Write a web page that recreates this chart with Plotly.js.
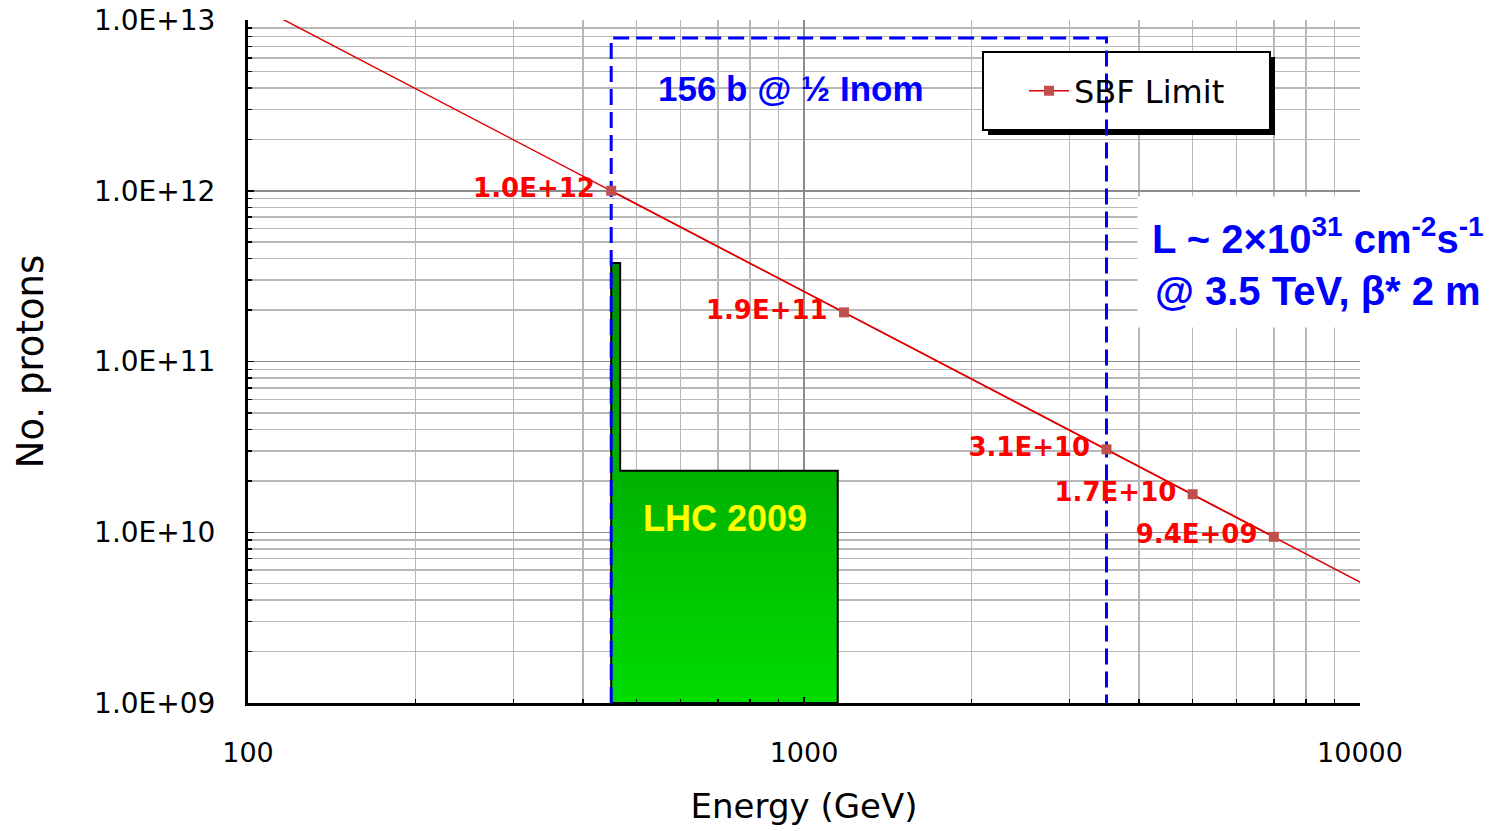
<!DOCTYPE html>
<html><head><meta charset="utf-8">
<script src="https://cdn.plot.ly/plotly-3.0.1.min.js"></script>
<style>html,body{margin:0;padding:0;background:#fff}#chart{width:1501px;height:831px}</style>
</head><body><div id="chart"></div>
<script>
// ---- data ----
const sbfEnergy = [450, 1180, 3500, 5000, 7000];            // GeV, marked points
const sbfProtons = [1.0e12, 1.94e11, 3.06e10, 1.67e10, 9.4e9];
const sbfLineEnergy = [100, 450, 1180, 3500, 5000, 7000, 10000];
const sbfLineProtons = [1.29e13, 1.0e12, 1.94e11, 3.06e10, 1.67e10, 9.4e9, 5.1e9];
const lhcEnergy = [450, 450, 467, 467, 1150, 1150, 450];
const lhcProtons = [1e9, 3.78e11, 3.78e11, 2.29e10, 2.29e10, 1e9, 1e9];
const boxEnergy = [450, 450, 3500, 3500];
const boxProtons = [1e9, 7.85e12, 7.85e12, 1e9];
const yTickVals = [1e9, 1e10, 1e11, 1e12, 1e13];
const yTickText = ["1.0E+09", "1.0E+10", "1.0E+11", "1.0E+12", "1.0E+13"];
const xTickVals = [100, 1000, 10000];
const xTickText = ["100", "1000", "10000"];

function fmtE(v) {
  const parts = v.toExponential(1).split('e');
  const n = parseInt(parts[1], 10);
  return parts[0] + 'E' + (n < 0 ? '-' : '+') + String(Math.abs(n)).padStart(2, '0') + '\u00a0';
}

// plot area in pixels
const L = 248, R = 1360, T = 20, B = 703, W = 1501, H = 831;
const px = v => (v - L) / (R - L);
const py = v => (B - v) / (B - T);
// pixel -> data (log axes, range [2,4] and [9,13])
const ex = v => Math.pow(10, 2 + 2 * px(v));
const ny = v => Math.pow(10, 9 + 4 * py(v));

const traces = [
  {
    x: lhcEnergy, y: lhcProtons, mode: 'lines', fill: 'toself',
    line: {color: '#000000', width: 2},
    fillgradient: {type: 'vertical', colorscale: [[0, '#00dc00'], [1, '#008a00']]},
    showlegend: false, hoverinfo: 'skip'
  },
  {
    x: boxEnergy, y: boxProtons, mode: 'lines',
    line: {color: '#0000ff', width: 3, dash: '16px,7px'},
    showlegend: false, hoverinfo: 'skip'
  },
  {
    x: sbfLineEnergy, y: sbfLineProtons, mode: 'lines',
    line: {color: '#e00000', width: 1.5},
    showlegend: false, hoverinfo: 'skip'
  },
  {
    x: sbfEnergy, y: sbfProtons, mode: 'lines+markers+text', name: 'SBF Limit',
    line: {color: '#e00000', width: 1.5},
    marker: {symbol: 'square', size: 10, color: '#c0504d'},
    text: sbfProtons.map(fmtE), textposition: 'middle left',
    textfont: {family: 'DejaVu Sans', size: 26, color: '#ff0000', weight: 'bold'},
    cliponaxis: false
  }
];

const layout = {
  width: W, height: H,
  margin: {l: L, r: W - R, t: T, b: H - B},
  paper_bgcolor: '#ffffff', plot_bgcolor: '#ffffff',
  showlegend: true,
  legend: {
    x: px(1024), y: py(91), xanchor: 'left', yanchor: 'middle',
    bgcolor: 'rgba(0,0,0,0)', borderwidth: 0, itemwidth: 40,
    font: {family: 'DejaVu Sans', size: 32, color: '#000000'}
  },
  xaxis: {
    type: 'log', range: [2, 4],
    tickvals: xTickVals, ticktext: xTickText,
    tickfont: {family: 'DejaVu Sans', size: 27, color: '#000000'},
    ticks: 'inside', ticklen: 6, tickcolor: '#000', tickwidth: 1.5,
    ticklabelstandoff: 24,
    showline: true, linecolor: '#000000', linewidth: 3,
    showgrid: true, gridcolor: '#8c8c8c', gridwidth: 1.5,
    minor: {dtick: 'D1', showgrid: true, gridcolor: '#b8b8b8', gridwidth: 1.5, ticks: 'inside', ticklen: 4, tickcolor: '#000'},
    zeroline: false,
    title: {text: 'Energy (GeV)', font: {family: 'DejaVu Sans', size: 34, color: '#000000'}, standoff: 27}
  },
  yaxis: {
    type: 'log', range: [9, 13],
    tickvals: yTickVals, ticktext: yTickText,
    tickfont: {family: 'DejaVu Sans', size: 28, color: '#000000'},
    ticks: 'inside', ticklen: 6, tickcolor: '#000', tickwidth: 1.5,
    ticklabelstandoff: 24,
    showline: true, linecolor: '#000000', linewidth: 3,
    showgrid: true, gridcolor: '#8c8c8c', gridwidth: 1.5,
    minor: {dtick: 'D1', showgrid: true, gridcolor: '#b8b8b8', gridwidth: 1.5, ticks: 'inside', ticklen: 4, tickcolor: '#000'},
    zeroline: false,
    title: {text: 'No. protons', font: {family: 'DejaVu Sans', size: 37, color: '#000000'}, standoff: 40}
  },
  shapes: [
    {type: 'rect', xref: 'x', yref: 'y', layer: 'between',
     x0: ex(988), x1: ex(1275), y0: ny(135), y1: ny(57),
     fillcolor: '#000000', line: {width: 0}},
    {type: 'rect', xref: 'x', yref: 'y', layer: 'between',
     x0: ex(983), x1: ex(1270), y0: ny(130), y1: ny(52),
     fillcolor: '#ffffff', line: {color: '#000000', width: 2}}
  ],
  annotations: [
    {xref: 'paper', yref: 'paper', x: px(791), y: py(88), xanchor: 'center', yanchor: 'middle', showarrow: false,
     text: '156 b @ ½ Inom',
     font: {family: 'Liberation Sans, Arial', size: 35, color: '#0000ff', weight: 'bold'}},
    {xref: 'paper', yref: 'paper', x: px(725), y: py(518), xanchor: 'center', yanchor: 'middle', showarrow: false,
     text: 'LHC 2009',
     font: {family: 'Liberation Sans, Arial', size: 36, color: '#ffff00', weight: 'bold'}},
    {xref: 'paper', yref: 'paper', x: px(1318), y: py(262), xanchor: 'center', yanchor: 'middle', showarrow: false,
     text: 'L ~ 2×10<sup>31</sup> cm<sup>-2</sup>s<sup>-1</sup><br>@ 3.5 TeV, β* 2 m',
     align: 'center', bgcolor: '#ffffff', borderpad: 14,
     font: {family: 'Liberation Sans, Arial', size: 40, color: '#0000ff', weight: 'bold'}}
  ]
};

Plotly.newPlot('chart', traces, layout, {staticPlot: true, displayModeBar: false});
</script>
</body></html>
